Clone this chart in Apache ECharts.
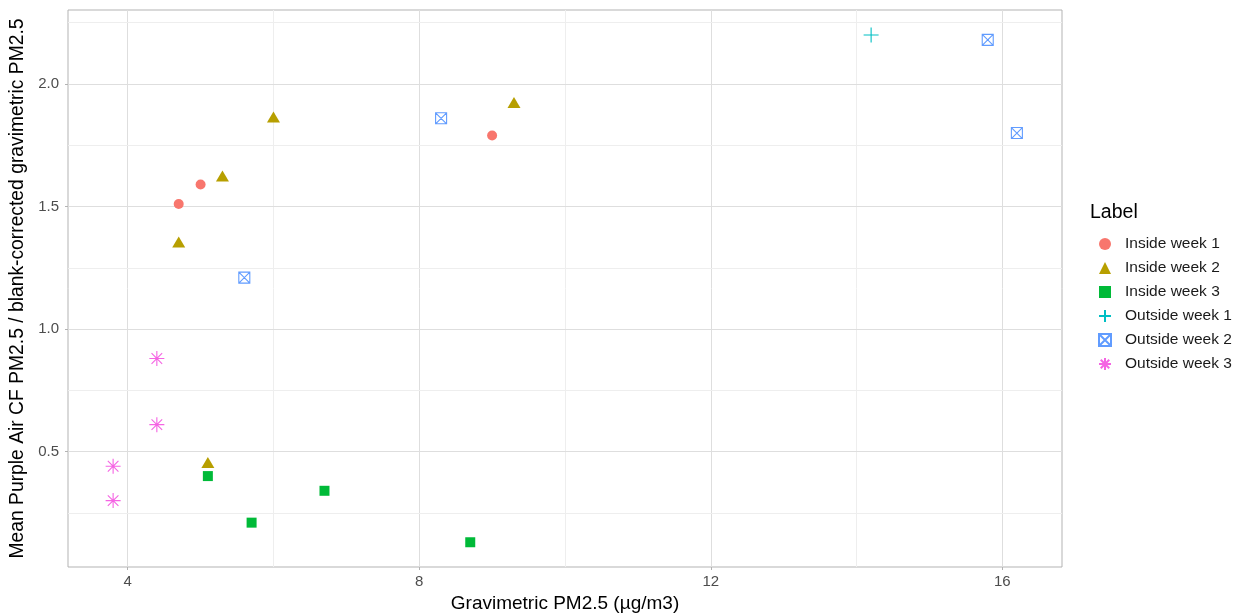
<!DOCTYPE html>
<html>
<head>
<meta charset="utf-8">
<script src="https://cdn.jsdelivr.net/npm/echarts@6/dist/echarts.min.js"></script>
<style>html,body{margin:0;padding:0;background:#fff}#c{width:1233px;height:613px}</style>
</head>
<body>
<div id="c"></div>
<script>
// ---- data ----
const seriesNames = ['Inside week 1','Inside week 2','Inside week 3','Outside week 1','Outside week 2','Outside week 3'];
const inW1X = [4.7, 5.0, 9.0];
const inW1Y = [1.51, 1.59, 1.79];
const inW2X = [4.7, 5.3, 6.0, 9.3, 5.1];
const inW2Y = [1.355, 1.625, 1.865, 1.925, 0.455];
const inW3X = [5.1, 5.7, 6.7, 8.7];
const inW3Y = [0.40, 0.21, 0.34, 0.13];
const outW1X = [14.2];
const outW1Y = [2.20];
const outW2X = [8.3, 5.6, 15.8, 16.2];
const outW2Y = [1.86, 1.21, 2.18, 1.80];
const outW3X = [4.4, 4.4, 3.8, 3.8];
const outW3Y = [0.88, 0.61, 0.44, 0.30];
const xTicks = [4, 8, 12, 16];
const xMinor = [6, 10, 14];
const yTicks = [0.5, 1.0, 1.5, 2.0];
const yMinor = [0.25, 0.75, 1.25, 1.75, 2.25];

const zip = (xs, ys) => xs.map((x, i) => [x, ys[i]]);
const FONT = '"Liberation Sans", Arial, sans-serif';
const colors = ['#F8766D', '#B79F00', '#00BA38', '#00BFC4', '#619CFF', '#F564E3'];
const PLUS = 'path://M5,0L5,10M0,5L10,5';
const BOXX = 'path://M0,0L10,0L10,10L0,10ZM0,0L10,10M10,0L0,10';
const AST = 'path://M5,0L5,10M0,5L10,5M1.46,1.46L8.54,8.54M8.54,1.46L1.46,8.54';

const filled = (name, col, sym, size, data) => ({
  name, type: 'scatter', z: 3, data, symbol: sym, symbolSize: size,
  itemStyle: { color: col, opacity: 1 }
});
const stroked = (name, col, sym, size, data) => ({
  name, type: 'scatter', z: 3, data, symbol: sym, symbolSize: size,
  itemStyle: { color: 'rgba(0,0,0,0)', borderColor: col, borderWidth: 1.1, opacity: 1 }
});

const gridLines = [];
xTicks.forEach(v => gridLines.push({ xAxis: v, lineStyle: { color: '#DEDEDE', width: 1, type: 'solid' } }));
xMinor.forEach(v => gridLines.push({ xAxis: v, lineStyle: { color: '#EEEEEE', width: 1, type: 'solid' } }));
yTicks.forEach(v => gridLines.push({ yAxis: v, lineStyle: { color: '#DEDEDE', width: 1, type: 'solid' } }));
yMinor.forEach(v => gridLines.push({ yAxis: v, lineStyle: { color: '#EEEEEE', width: 1, type: 'solid' } }));

const chart = echarts.init(document.getElementById('c'), null, { renderer: 'canvas' });
chart.setOption({
  animation: false,
  backgroundColor: '#fff',
  textStyle: { fontFamily: FONT },
  title: {
    text: 'Label', left: 1090, top: 203, padding: 0,
    textStyle: { fontFamily: FONT, fontSize: 19.5, fontWeight: 'normal', color: '#000' }
  },
  legend: {
    data: seriesNames, orient: 'vertical', left: 1098, top: 236, padding: 0,
    itemWidth: 12, itemHeight: 12, itemGap: 8,
    textStyle: { fontFamily: FONT, fontSize: 15.5, color: '#1A1A1A', padding: [0, 0, 0, 9] },
    selectedMode: false
  },
  grid: { left: 68, right: 171, top: 10, bottom: 46, show: true, borderColor: '#B3B3B3', borderWidth: 1,
    backgroundColor: '#fff', outerBoundsMode: 'none', containLabel: false },
  xAxis: {
    type: 'value', min: 3.181, max: 16.819,
    name: 'Gravimetric PM2.5 (µg/m3)', nameLocation: 'middle', nameGap: 26,
    nameTextStyle: { fontFamily: FONT, fontSize: 19, color: '#000' },
    axisLine: { show: false },
    axisTick: { show: true, customValues: xTicks, length: 3, lineStyle: { color: '#B3B3B3' } },
    axisLabel: { customValues: xTicks, fontFamily: FONT, fontSize: 15, color: '#4D4D4D', margin: 7 },
    splitLine: { show: false }
  },
  yAxis: {
    type: 'value', min: 0.029, max: 2.302,
    name: 'Mean Purple Air CF PM2.5 / blank-corrected gravimetric PM2.5', nameLocation: 'middle', nameGap: 38,
    nameTextStyle: { fontFamily: FONT, fontSize: 19.3, color: '#000' },
    axisLine: { show: false },
    axisTick: { show: true, customValues: yTicks, length: 3, lineStyle: { color: '#B3B3B3' } },
    axisLabel: { customValues: yTicks, fontFamily: FONT, fontSize: 15, color: '#4D4D4D', margin: 9,
      formatter: v => v.toFixed(1) },
    splitLine: { show: false }
  },
  series: [
    { name: 'grid', type: 'scatter', z: 1, data: [], silent: true,
      markLine: { z: 1, silent: true, symbol: 'none', label: { show: false }, animation: false, data: gridLines } },
    filled(seriesNames[0], colors[0], 'circle', 10, zip(inW1X, inW1Y)),
    filled(seriesNames[1], colors[1], 'triangle', [13, 11], zip(inW2X, inW2Y)),
    filled(seriesNames[2], colors[2], 'rect', 10, zip(inW3X, inW3Y)),
    stroked(seriesNames[3], colors[3], PLUS, 15, zip(outW1X, outW1Y)),
    stroked(seriesNames[4], colors[4], BOXX, 11, zip(outW2X, outW2Y)),
    stroked(seriesNames[5], colors[5], AST, 15, zip(outW3X, outW3Y))
  ]
});
</script>
</body>
</html>
